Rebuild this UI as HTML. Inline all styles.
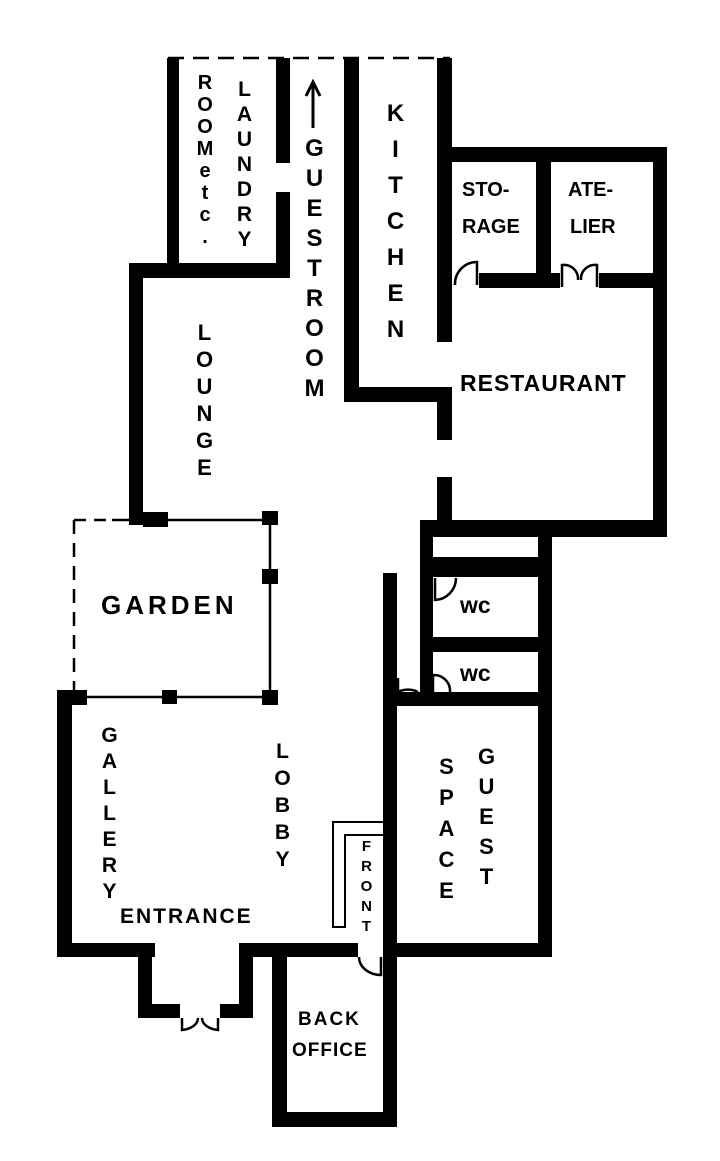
<!DOCTYPE html>
<html><head><meta charset="utf-8"><style>
html,body{margin:0;padding:0;background:#fff;}
#w{position:relative;width:720px;height:1161px;overflow:hidden;background:#fff;}
svg{position:absolute;left:0;top:0;}
.v{position:absolute;writing-mode:vertical-rl;text-orientation:upright;font-family:"Liberation Sans",sans-serif;color:#000;font-weight:bold;line-height:1;white-space:nowrap;}
.h{position:absolute;font-family:"Liberation Sans",sans-serif;color:#000;font-weight:bold;white-space:nowrap;line-height:1;}
</style></head><body><div id="w">
<svg width="720" height="1161" viewBox="0 0 720 1161">
<g fill="#000">
<rect x="167" y="58" width="12" height="220"/>
<rect x="276" y="58" width="14" height="105"/>
<rect x="276" y="192" width="14" height="86"/>
<rect x="129" y="263" width="161" height="15"/>
<rect x="129" y="263" width="14" height="262"/>
<rect x="344" y="58" width="15" height="344"/>
<rect x="344" y="387" width="108" height="15"/>
<rect x="437" y="387" width="15" height="53"/>
<rect x="437" y="58" width="15" height="284"/>
<rect x="437" y="147" width="230" height="15"/>
<rect x="653" y="147" width="14" height="390"/>
<rect x="536" y="147" width="15" height="140"/>
<rect x="479" y="273" width="81" height="15"/>
<rect x="599" y="273" width="68" height="15"/>
<rect x="437" y="477" width="15" height="60"/>
<rect x="420" y="520" width="247" height="17"/>
<rect x="538" y="520" width="14" height="437"/>
<rect x="420" y="520" width="13" height="172"/>
<rect x="420" y="557" width="132" height="20"/>
<rect x="420" y="637" width="132" height="15"/>
<rect x="397" y="692" width="155" height="14"/>
<rect x="383" y="573" width="14" height="554"/>
<rect x="397" y="943" width="155" height="14"/>
<rect x="143" y="512" width="25" height="15"/>
<rect x="262" y="511" width="16" height="14"/>
<rect x="262" y="569" width="16" height="15"/>
<rect x="58" y="690" width="29" height="15"/>
<rect x="162" y="690" width="15" height="14"/>
<rect x="262" y="690" width="16" height="15"/>
<rect x="57" y="690" width="15" height="267"/>
<rect x="57" y="943" width="98" height="14"/>
<rect x="240" y="943" width="118" height="14"/>
<rect x="138" y="943" width="14" height="75"/>
<rect x="138" y="1004" width="42" height="14"/>
<rect x="220" y="1004" width="33" height="14"/>
<rect x="239" y="943" width="14" height="75"/>
<rect x="272" y="943" width="15" height="184"/>
<rect x="272" y="1112" width="125" height="15"/>
</g>
<g fill="none" stroke="#000" stroke-width="2.5">
<line x1="168" y1="58" x2="450" y2="58" stroke-dasharray="16,9"/>
<line x1="74" y1="520" x2="74" y2="692" stroke-dasharray="14,9"/>
<line x1="74" y1="520" x2="112" y2="520" stroke-dasharray="12,8"/>
<line x1="112" y1="520" x2="270" y2="520"/>
<line x1="270" y1="520" x2="270" y2="700"/>
<line x1="74" y1="697" x2="270" y2="697"/>
<polyline points="383,822 333,822 333,927 345,927 345,835 383,835" stroke-width="2"/>
<path d="M455,285 A22,22 0 0 1 477,262 L477,285" />
<path d="M562,287 L562,265 A14,14 0 0 1 578,280 M597,287 L597,265 A14,14 0 0 0 581,280"/>
<path d="M435,578 L435,600 A22,22 0 0 0 456,578"/>
<path d="M433,692 L433,675 A16,16 0 0 1 450,692"/>
<path d="M398,692 A18,14 0 0 1 418,692 M398,692 L398,678"/>
<path d="M182,1018 L182,1030 A18,12 0 0 0 198,1018 M218,1018 L218,1030 A18,12 0 0 1 202,1018"/>
<path d="M359,957 A22,18 0 0 0 381,975 L381,957"/>
<path d="M313,128 L313,84 M306,96 L313,82 L320,96" stroke-width="3"/>
</g>
</svg>
<div class="v" style="left:195px;top:72px;font-size:20px;letter-spacing:0px;">ROOMetc.</div>
<div class="v" style="left:234px;top:78px;font-size:21px;letter-spacing:2px;">LAUNDRY</div>
<div class="v" style="left:302px;top:135px;font-size:24px;letter-spacing:3px;">GUESTROOM</div>
<div class="v" style="left:383px;top:100px;font-size:24px;letter-spacing:9px;">KITCHEN</div>
<div class="h" style="left:462px;top:180px;font-size:20px;">STO-</div>
<div class="h" style="left:462px;top:217px;font-size:20px;">RAGE</div>
<div class="h" style="left:568px;top:180px;font-size:20px;">ATE-</div>
<div class="h" style="left:570px;top:217px;font-size:20px;">LIER</div>
<div class="h" style="left:460px;top:372px;font-size:23px;letter-spacing:1px;">RESTAURANT</div>
<div class="v" style="left:193px;top:320px;font-size:22px;letter-spacing:2px;">LOUNGE</div>
<div class="h" style="left:101px;top:592px;font-size:26px;letter-spacing:4px;">GARDEN</div>
<div class="v" style="left:99px;top:724px;font-size:21px;letter-spacing:3px;">GALLERY</div>
<div class="v" style="left:272px;top:740px;font-size:21px;letter-spacing:4px;">LOBBY</div>
<div class="h" style="left:120px;top:906px;font-size:21px;letter-spacing:2px;">ENTRANCE</div>
<div class="v" style="left:359px;top:838px;font-size:15px;letter-spacing:3px;">FRONT</div>
<div class="v" style="left:435px;top:754px;font-size:22px;letter-spacing:6px;">SPACE</div>
<div class="v" style="left:475px;top:744px;font-size:22px;letter-spacing:5px;">GUEST</div>
<div class="h" style="left:460px;top:594px;font-size:23px;">wc</div>
<div class="h" style="left:460px;top:662px;font-size:23px;">wc</div>
<div class="h" style="left:298px;top:1010px;font-size:19px;letter-spacing:2px;">BACK</div>
<div class="h" style="left:292px;top:1041px;font-size:19px;letter-spacing:1px;">OFFICE</div>
</div></body></html>
